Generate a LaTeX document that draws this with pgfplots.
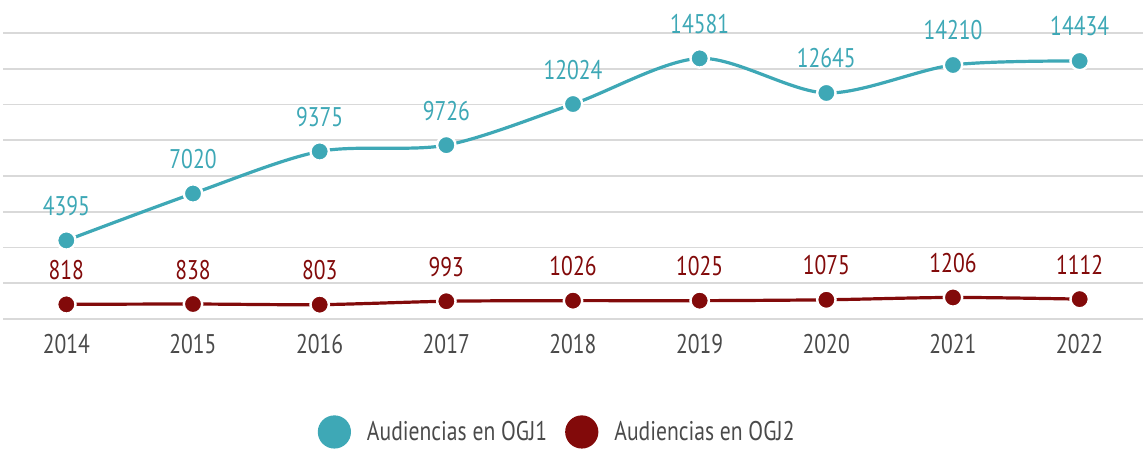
\documentclass[border=0pt]{standalone}
\usepackage{fontspec}
\setmainfont{PT Sans}[FakeStretch=0.8]
\usepackage{pgfplots}
\pgfplotsset{compat=1.18}
\definecolor{teal1}{HTML}{3EA8B6}
\definecolor{red1}{HTML}{820A0A}
\definecolor{gridc}{HTML}{D9D9D9}
\definecolor{txt}{HTML}{4A4A4A}
\begin{document}
\begin{tikzpicture}
\useasboundingbox (-1.5pt,-65pt) rectangle (572pt,159.5pt);
\begin{axis}[
  scale only axis,
  width=570pt, height=143pt,
  xmin=2013.5, xmax=2022.5,
  ymin=0, ymax=16000,
  xtick={2014,...,2022},
  ytick={0,2000,...,16000},
  yticklabels={},
  scaled y ticks=false,
  xticklabel style={font=\fontsize{13.5}{16}\selectfont, text=txt, /pgf/number format/1000 sep={}},
  /pgf/number format/assume math mode=true,
  /pgf/number format/1000 sep={},
  major tick length=0pt,
  axis line style={draw=none},
  ymajorgrids,
  grid style={gridc, line width=0.9pt},
  xticklabel shift=4pt,
  clip=false,
  every node near coord/.style={font=\fontsize{13.5}{16}\selectfont, anchor=base, inner sep=0pt, yshift=12.5pt},
  nodes near coords,
  legend style={at={(axis description cs:0.487,-0.395)}, anchor=center, draw=none, fill=none,
    legend columns=-1, font=\fontsize{13.5}{16}\selectfont, text=txt,
    /tikz/every odd column/.append style={column sep=6pt},
    /tikz/every even column/.append style={column sep=7pt}},
  legend image code/.code={\fill[#1] (0pt,0pt) circle (7.5pt);},
]
\addplot[teal1, line width=1.6pt, smooth, tension=0.5, mark=*, mark size=4.6pt,
  mark options={fill=teal1, draw=white, line width=1.2pt},
  nodes near coords style={text=teal1}]
  coordinates {(2014,4395) (2015,7020) (2016,9375) (2017,9726) (2018,12024) (2019,14581) (2020,12645) (2021,14210) (2022,14434)};
\addlegendentry{Audiencias en OGJ1}
\addplot[red1, line width=1.6pt, smooth, tension=0.5, mark=*, mark size=4.6pt,
  mark options={fill=red1, draw=white, line width=1.2pt},
  nodes near coords style={text=red1}]
  coordinates {(2014,818) (2015,838) (2016,803) (2017,993) (2018,1026) (2019,1025) (2020,1075) (2021,1206) (2022,1112)};
\addlegendentry{Audiencias en OGJ2}
\end{axis}
\end{tikzpicture}
\end{document}
